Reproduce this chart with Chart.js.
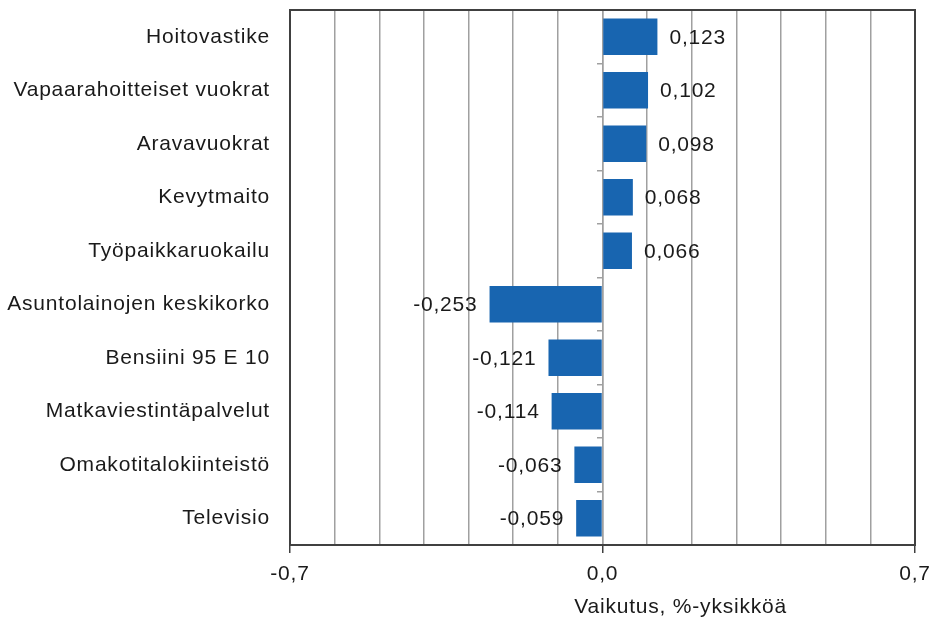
<!DOCTYPE html>
<html><head><meta charset="utf-8">
<script src="https://cdn.jsdelivr.net/npm/chart.js@4/dist/chart.umd.min.js"></script>
<style>html,body{margin:0;padding:0;background:#fff}#wrap{width:931px;height:623px;position:relative}</style>
</head><body><div id="wrap"><canvas id="c"></canvas></div>
<script>
// ---- data ----
const categories = [
  'Hoitovastike',
  'Vapaarahoitteiset vuokrat',
  'Aravavuokrat',
  'Kevytmaito',
  'Työpaikkaruokailu',
  'Asuntolainojen keskikorko',
  'Bensiini 95 E 10',
  'Matkaviestintäpalvelut',
  'Omakotitalokiinteistö',
  'Televisio'
];
const values = [0.123, 0.102, 0.098, 0.068, 0.066, -0.253, -0.121, -0.114, -0.063, -0.059];
const tickLabelValues = [-0.7, 0.0, 0.7];
const axisTitle = 'Vaikutus, %-yksikköä';
const axisMin = -0.7, axisMax = 0.7, gridStep = 0.1;
const axisTitleCenterValue = 0.175;

// ---- style ----
const FONT = '"Liberation Sans", Arial, sans-serif';
const FS = 21;
const LS = '0.8px';
const TEXT = '#1a1a1a';
const BAR = '#1865b0';
const GRID = '#a0a0a0';
const FRAME = '#404040';

const fmt = (v, d) => v.toFixed(d).replace('.', ',');
const isLabelled = v => tickLabelValues.some(t => Math.abs(t - v) < 1e-6);

const spacing = {
  id: 'spacing',
  beforeInit(chart) { chart.ctx.letterSpacing = LS; },
  beforeLayout(chart) { chart.ctx.letterSpacing = LS; },
  beforeDraw(chart) { chart.ctx.letterSpacing = LS; }
};

const frame = {
  id: 'frame',
  beforeDatasetsDraw(chart) {
    const a = chart.chartArea, ctx = chart.ctx;
    ctx.save();
    ctx.strokeStyle = FRAME; ctx.lineWidth = 2;
    ctx.strokeRect(a.left, a.top, a.right - a.left, a.bottom - a.top);
    ctx.restore();
  }
};

const valueLabels = {
  id: 'valueLabels',
  afterDatasetsDraw(chart) {
    const ctx = chart.ctx;
    const meta = chart.getDatasetMeta(0);
    ctx.save();
    ctx.font = FS + 'px ' + FONT;
    ctx.fillStyle = TEXT;
    ctx.textBaseline = 'middle';
    meta.data.forEach((el, i) => {
      const v = values[i];
      if (v >= 0) { ctx.textAlign = 'left'; ctx.fillText(fmt(v, 3), el.x + 12, el.y + 1); }
      else { ctx.textAlign = 'right'; ctx.fillText(fmt(v, 3), el.x - 12, el.y + 1); }
    });
    ctx.restore();
  }
};

const xTitle = {
  id: 'xTitle',
  afterDraw(chart) {
    const ctx = chart.ctx, xs = chart.scales.x;
    ctx.save();
    ctx.font = FS + 'px ' + FONT;
    ctx.fillStyle = TEXT;
    ctx.textAlign = 'center';
    ctx.textBaseline = 'middle';
    ctx.fillText(axisTitle, xs.getPixelForValue(axisTitleCenterValue), xs.bottom - 16);
    ctx.restore();
  }
};

new Chart(document.getElementById('c'), {
  type: 'bar',
  data: {
    labels: categories,
    datasets: [{
      data: values,
      backgroundColor: BAR,
      borderWidth: 0,
      barPercentage: 0.68,
      categoryPercentage: 1.0
    }]
  },
  options: {
    indexAxis: 'y',
    responsive: true,
    maintainAspectRatio: false,
    animation: false,
    layout: { padding: { left: 0, right: 16, top: 10, bottom: 0 } },
    plugins: { legend: { display: false }, tooltip: { enabled: false }, title: { display: false } },
    scales: {
      x: {
        type: 'linear',
        min: axisMin, max: axisMax,
        ticks: {
          stepSize: gridStep,
          autoSkip: false,
          maxRotation: 0,
          padding: 9,
          color: TEXT,
          font: { family: FONT, size: FS },
          callback: v => isLabelled(v) ? fmt(Math.abs(v) < 1e-9 ? 0 : v, 1) : ''
        },
        grid: {
          color: GRID,
          lineWidth: 1.5,
          drawTicks: true,
          tickLength: 8,
          tickColor: c => (c.tick && isLabelled(c.tick.value)) ? FRAME : 'rgba(0,0,0,0)',
          tickWidth: 1.5
        },
        border: { display: true, color: FRAME, width: 2 },
        afterFit: s => { s.height = 78; s.paddingLeft = 0; s.paddingRight = 0; }
      },
      y: {
        type: 'category',
        offset: true,
        ticks: { padding: 20, color: TEXT, font: { family: FONT, size: FS }, autoSkip: false },
        grid: { display: false, drawTicks: false },
        border: { display: true, color: FRAME, width: 2 },
        afterFit: s => { s.width = 290; s.paddingTop = 0; s.paddingBottom = 0; }
      },
      y2: {
        type: 'category',
        axis: 'y',
        position: { x: 0 },
        offset: true,
        ticks: { display: false },
        grid: { offset: true, drawOnChartArea: false, drawTicks: true, tickLength: 5, color: GRID, lineWidth: 1.5 },
        border: { display: true, color: GRID, width: 1.5 },
        afterFit: s => { s.paddingTop = 0; s.paddingBottom = 0; }
      }
    }
  },
  plugins: [spacing, frame, valueLabels, xTitle]
});
</script>
</body></html>
